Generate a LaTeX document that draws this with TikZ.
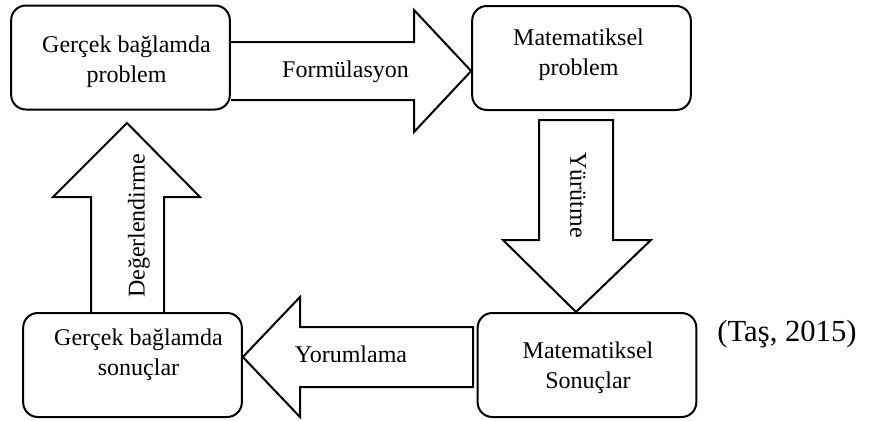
\documentclass[tikz,border=0pt]{standalone}
\usepackage{fontspec}
\setmainfont{Liberation Serif}

\begin{document}
\begin{tikzpicture}[x=0.75pt,y=-0.75pt,
  kutu/.style={draw,line width=1.5pt,rounded corners=11pt,minimum width=164pt,minimum height=78pt},
  yazi/.style={align=center,font=\fontsize{18}{22.5}\selectfont},
  blok/.style={draw,line width=1.5pt,line join=miter}]
\useasboundingbox (0,0) rectangle (869,421);
% kutular
\node[kutu] (gp) at (120.5,57.5) {};
\node[kutu] (mp) at (581.5,58) {};
\node[kutu] (gs) at (132.5,365) {};
\node[kutu] (ms) at (587,365) {};
\node[yazi] (gpyazi) at (126.5,62) {Gerçek bağlamda\\problem};
\node[yazi] (mpyazi) at (578.5,54.5) {Matematiksel\\problem};
\node[yazi] (gsyazi) at (138.5,355) {Gerçek bağlamda\\sonuçlar};
\node[yazi] (msyazi) at (588,368) {Matematiksel\\Sonuçlar};
% blok oklar
\draw[blok] (gp.east |- 0,42) -- (414,42) -- (414,10) -- (mp.west |- 0,71)
  -- (414,132) -- (414,100) -- (gp.east |- 0,100);
\draw[blok] (539,120) -- (613,120) -- (613,240) -- (651,240) -- (ms.north -| 576,0)
  -- (503,240) -- (539,240) -- cycle;
\draw[blok] (473,327) -- (300,327) -- (300,297) -- (gs.east |- 0,357)
  -- (300,417) -- (300,387) -- (473,387) -- cycle;
\draw[blok] (gs.north -| 91,0) -- (91,197) -- (53,197) -- (127,123)
  -- (200,197) -- (164,197) -- (gs.north -| 164,0);
\node[yazi] (formul) at (345.5,72) {Formülasyon};
\node[yazi,rotate=-90] (yurutme) at (578,195) {Yürütme};
\node[yazi] (yorum) at (351,354) {Yorumlama};
\node[yazi,rotate=90] (deger) at (139,226) {Değerlendirme};
\node[font=\fontsize{23}{28}\selectfont] (kaynak) at (787,334) {(Taş, 2015)};
\end{tikzpicture}
\end{document}
